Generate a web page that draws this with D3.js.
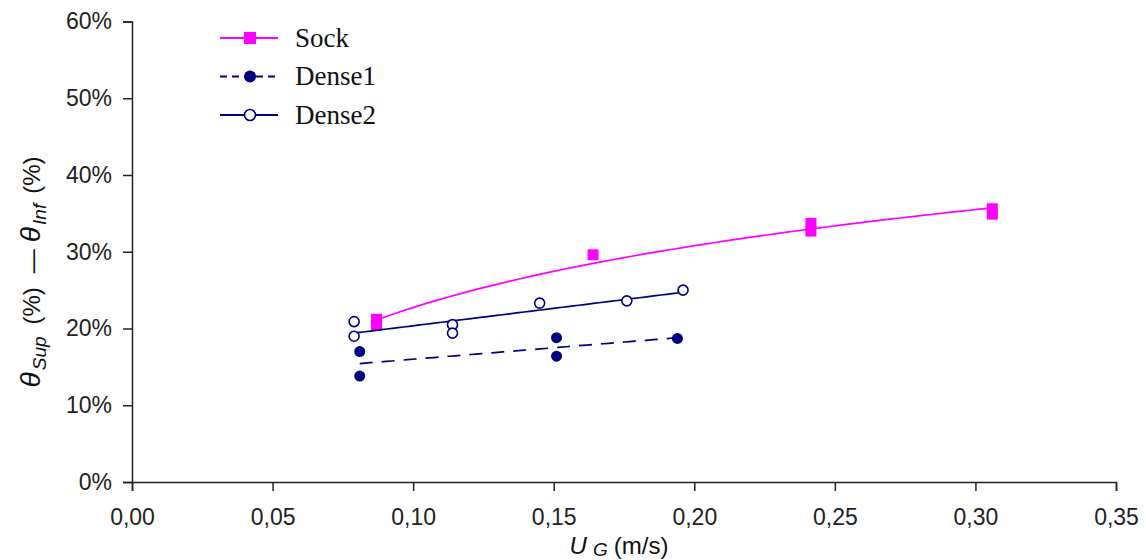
<!DOCTYPE html>
<html>
<head>
<meta charset="utf-8">
<script src="https://cdn.jsdelivr.net/npm/d3@7"></script>
<style>
  html, body { margin: 0; padding: 0; background: #fff; }
  svg { display: block; }
</style>
</head>
<body>
<svg id="chart" width="1146" height="560"></svg>
<script>
// ---- data ----
const seriesNames = ["Sock", "Dense1", "Dense2"];
const sockX   = [0.087, 0.087, 0.164, 0.2415, 0.2415, 0.306, 0.306];
const sockY   = [0.212, 0.204, 0.296, 0.337, 0.327, 0.356, 0.349];
const dense1X = [0.081, 0.081, 0.151, 0.151, 0.194];
const dense1Y = [0.170, 0.138, 0.188, 0.164, 0.187];
const dense2X = [0.079, 0.079, 0.114, 0.114, 0.145, 0.176, 0.196];
const dense2Y = [0.209, 0.190, 0.205, 0.194, 0.233, 0.236, 0.250];
const xTicks  = [0, 0.05, 0.10, 0.15, 0.20, 0.25, 0.30, 0.35];
const yTicks  = [0, 0.1, 0.2, 0.3, 0.4, 0.5, 0.6];

(function () {
// ---- layout ----
const mLeft = 132, mRight = 1116, mTop = 21.5, mBottom = 482;
const svg = d3.select("#chart");

const x = d3.scaleLinear().domain([0, 0.35]).range([mLeft, mRight]);
const y = d3.scaleLinear().domain([0, 0.6]).range([mBottom, mTop]);

const loc = d3.formatLocale({decimal: ",", thousands: ".", grouping: [3], currency: ["", ""]});
const fx = loc.format(".2f");
const fy = d3.format(".0%");

const axisColor = "#222";
const tickFont = "'Liberation Sans', Arial, sans-serif";

// y axis
const gy = svg.append("g").attr("transform", `translate(${mLeft},0)`)
  .call(d3.axisLeft(y).tickValues(yTicks).tickFormat(fy).tickSize(9).tickPadding(11));
gy.select(".domain").attr("stroke", axisColor).attr("stroke-width", 1.5);
gy.selectAll(".tick line").attr("stroke", axisColor).attr("stroke-width", 1.5);
gy.selectAll(".tick text").attr("fill", "#222").style("font-family", tickFont).style("font-size", "23px");

// x axis
const gx = svg.append("g").attr("transform", `translate(0,${mBottom})`)
  .call(d3.axisBottom(x).tickValues(xTicks).tickFormat(fx).tickSize(9).tickPadding(18));
gx.select(".domain").attr("stroke", axisColor).attr("stroke-width", 1.5);
gx.selectAll(".tick line").attr("stroke", axisColor).attr("stroke-width", 1.5);
gx.selectAll(".tick text").attr("fill", "#222").style("font-family", tickFont).style("font-size", "23px");

// ---- fits ----
function fitLinear(xs, ys) {
  const mx = d3.mean(xs), my = d3.mean(ys);
  let sxy = 0, sxx = 0;
  xs.forEach((v, i) => { sxy += (v - mx) * (ys[i] - my); sxx += (v - mx) * (v - mx); });
  const b = sxy / sxx, a = my - b * mx;
  return v => a + b * v;
}
function fitLog(xs, ys) {
  const lx = xs.map(Math.log);
  const f = fitLinear(lx, ys);
  return v => f(Math.log(v));
}
function trendPts(xs, f) {
  const [a, b] = d3.extent(xs);
  return d3.range(0, 61).map(i => { const v = a + (b - a) * i / 60; return [v, f(v)]; });
}
const line = d3.line().x(d => x(d[0])).y(d => y(d[1]));

const magenta = "#FF00FF", navy = "#000080";

const series = [
  {name: seriesNames[0], xs: sockX, ys: sockY, fit: fitLog(sockX, sockY), color: magenta, dash: null, legDash: null, marker: "square"},
  {name: seriesNames[1], xs: dense1X, ys: dense1Y, fit: fitLinear(dense1X, dense1Y), color: navy, dash: "13,9", legDash: "7,5", marker: "dot"},
  {name: seriesNames[2], xs: dense2X, ys: dense2Y, fit: fitLinear(dense2X, dense2Y), color: navy, dash: null, legDash: null, marker: "open"}
];

function drawMarker(g, type, cx, cy, color, k) {
  if (type === "square") {
    const s = 11 * k;
    g.append("rect").attr("x", cx - s / 2).attr("y", cy - s / 2).attr("width", s).attr("height", s).attr("fill", color);
  } else if (type === "dot") {
    g.append("circle").attr("cx", cx).attr("cy", cy).attr("r", 5.5 * k).attr("fill", color);
  } else {
    g.append("circle").attr("cx", cx).attr("cy", cy).attr("r", 5 * k).attr("fill", "#fff").attr("stroke", color).attr("stroke-width", 1.6);
  }
}

series.forEach(s => {
  const g = svg.append("g");
  g.append("path").attr("d", line(trendPts(s.xs, s.fit)))
    .attr("fill", "none").attr("stroke", s.color).attr("stroke-width", 1.7)
    .attr("stroke-dasharray", s.dash);
  s.xs.forEach((v, i) => drawMarker(g, s.marker, x(v), y(s.ys[i]), s.color, 1));
});

// ---- legend ----
const legX0 = 220, legX1 = 278, legTextX = 295, legY0 = 38, legDy = 38.5;
series.forEach((s, i) => {
  const g = svg.append("g");
  const ly = legY0 + i * legDy;
  g.append("line").attr("x1", legX0).attr("x2", legX1).attr("y1", ly).attr("y2", ly)
    .attr("stroke", s.color).attr("stroke-width", 1.8).attr("stroke-dasharray", s.legDash);
  drawMarker(g, s.marker, (legX0 + legX1) / 2 + 1, ly, s.color, 1.1);
  g.append("text").attr("x", legTextX).attr("y", ly + 8.5)
    .style("font-family", "'Liberation Serif', 'Times New Roman', serif").style("font-size", "27px")
    .attr("fill", "#111").text(s.name);
});

// ---- axis titles ----
const ylab = svg.append("text")
  .attr("transform", `translate(40,272) rotate(-90)`)
  .attr("text-anchor", "middle")
  .style("font-family", tickFont).style("font-size", "24px").attr("fill", "#111");
ylab.append("tspan").style("font-style", "italic").style("font-size", "28px").text("θ");
ylab.append("tspan").attr("dy", 6).attr("dx", 2).style("font-style", "italic").style("font-size", "19px").text("Sup");
ylab.append("tspan").attr("dy", -6).attr("dx", 12).text("(%)");
ylab.append("tspan").attr("dx", 14).text("\u2014");
ylab.append("tspan").attr("dx", 7).style("font-style", "italic").style("font-size", "28px").text("θ");
ylab.append("tspan").attr("dy", 6).attr("dx", 2).style("font-style", "italic").style("font-size", "19px").text("Inf");
ylab.append("tspan").attr("dy", -6).attr("dx", 10).text("(%)");

const xlab = svg.append("text")
  .attr("x", 619).attr("y", 554)
  .attr("text-anchor", "middle")
  .style("font-family", tickFont).style("font-size", "24px").attr("fill", "#111");
xlab.append("tspan").style("font-style", "italic").text("U");
xlab.append("tspan").attr("dy", 2).attr("dx", 6).style("font-style", "italic").style("font-size", "19px").text("G");
xlab.append("tspan").attr("dy", -2).attr("dx", 6).text("(m/s)");
})();
</script>
</body>
</html>
